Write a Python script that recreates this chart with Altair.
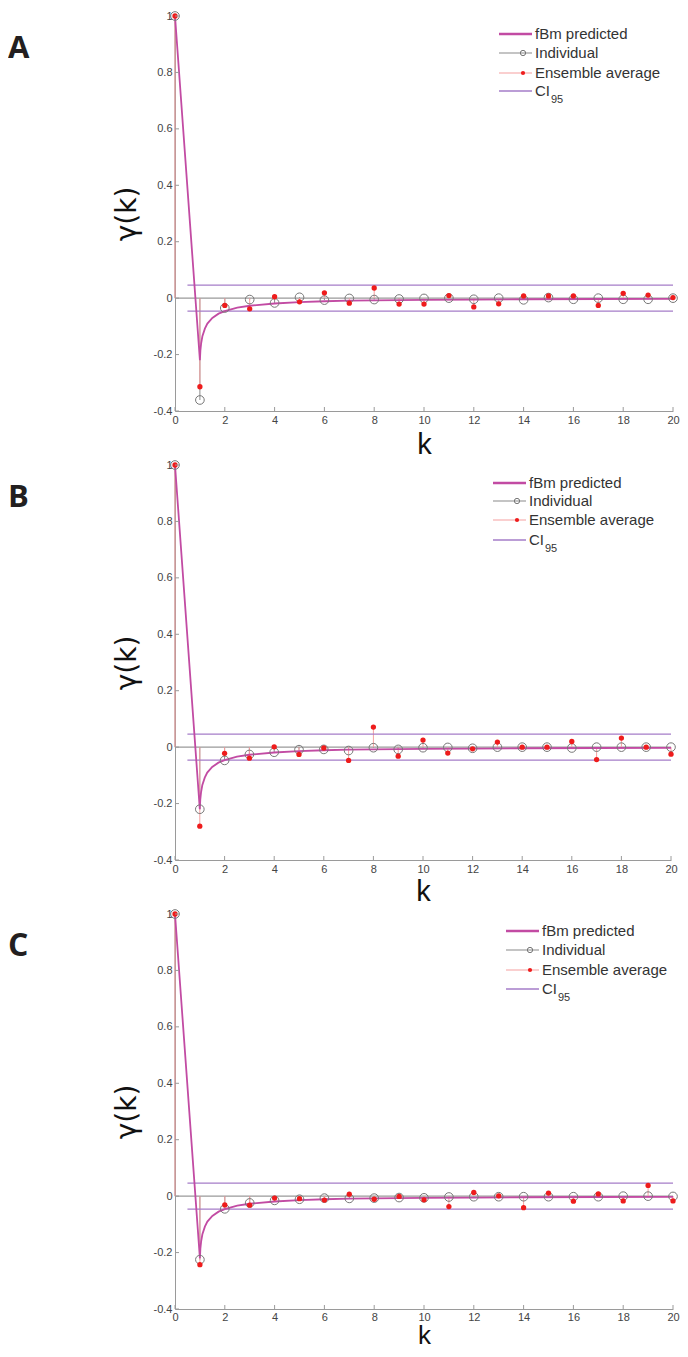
import altair as alt
import pandas as pd

# ---------------- data ----------------
K = list(range(21))

IND_A = [1.0, -0.361, -0.035, -0.005, -0.017, 0.003, -0.007, -0.001, -0.005, -0.003,
         -0.001, 0.0, -0.004, 0.0, -0.006, 0.002, -0.004, 0.0, -0.004, -0.004, 0.0]
ENS_A = [1.0, -0.314, -0.026, -0.038, 0.005, -0.013, 0.019, -0.018, 0.036, -0.021,
         -0.021, 0.009, -0.031, -0.020, 0.008, 0.008, 0.008, -0.026, 0.017, 0.011, 0.002]

IND_B = [1.0, -0.220, -0.047, -0.026, -0.018, -0.009, -0.008, -0.012, -0.002, -0.008,
         -0.002, -0.001, -0.004, 0.0, 0.0, 0.0, -0.003, 0.0, 0.0, 0.0, 0.0]
ENS_B = [1.0, -0.280, -0.022, -0.039, 0.001, -0.026, -0.003, -0.047, 0.071, -0.032,
         0.025, -0.021, -0.006, 0.018, 0.0, 0.0, 0.020, -0.044, 0.032, 0.0, -0.025]

IND_C = [1.0, -0.225, -0.045, -0.024, -0.015, -0.011, -0.007, -0.008, -0.007, -0.005,
         -0.006, -0.003, -0.002, -0.002, -0.002, -0.002, -0.002, -0.002, 0.0, 0.0, -0.001]
ENS_C = [1.0, -0.243, -0.031, -0.032, -0.007, -0.009, -0.014, 0.007, -0.011, -0.001,
         -0.013, -0.037, 0.013, 0.001, -0.041, 0.011, -0.018, 0.008, -0.017, 0.038, -0.017]

FBM_K = [0, 1, 1.02, 1.05, 1.1, 1.2, 1.3, 1.5, 1.75, 2, 2.5, 3, 4, 5, 6, 7, 8, 10, 12, 14, 17, 20]
FBM_G = [1.0, -0.22, -0.185, -0.16, -0.135, -0.108, -0.09, -0.07, -0.055, -0.046, -0.034,
         -0.027, -0.019, -0.014, -0.011, -0.009, -0.008, -0.006, -0.005, -0.004, -0.003, -0.0025]

CI = 0.046
CI_START = 0.5

X_TICKS = [0, 2, 4, 6, 8, 10, 12, 14, 16, 18, 20]
Y_TICKS = [-0.4, -0.2, 0, 0.2, 0.4, 0.6, 0.8, 1]

LEGEND_LABELS = ["fBm predicted", "Individual", "Ensemble average", "CI", "95"]

# ---------------- styles ----------------
FONT = "Liberation Sans"
FBM_C = "#c24ba3"
CI_C = "#a57dc8"
RED = "#ee1c1c"
PINK = "#f5a0a0"
GRAY = "#777777"
AX = "#9a9a9a"


def panel(letter, ind, ens, W, H, letter_dx, letter_size, leg_x, leg_y, k_y, k_size, lpad):
    df = pd.DataFrame({"k": K, "ind": ind, "ens": ens})
    fbm = pd.DataFrame({"k": FBM_K, "g": FBM_G})
    base0 = pd.DataFrame({"x0": [K[0]], "x1": [K[-1]], "y": [0.0]})
    ci = pd.DataFrame({"x0": [CI_START, CI_START], "x1": [K[-1], K[-1]], "y": [CI, -CI]})
    xt = pd.DataFrame({"t": X_TICKS})
    yt = pd.DataFrame({"t": Y_TICKS})
    one = pd.DataFrame({"a": [0]})

    xs = alt.Scale(domain=[0, 20], nice=False, zero=False)
    ys = alt.Scale(domain=[-0.4, 1], nice=False, zero=False)
    xaxis = alt.Axis(values=X_TICKS, format="d", title="k", tickSize=0, labelPadding=lpad,
                     labelFontSize=11, labelColor="#444", labelFont=FONT,
                     domainColor=AX, grid=False, labelFlush=False,
                     titleFontSize=k_size, titleFontWeight="normal", titleColor="#111",
                     titleFont=FONT, titleX=W / 2, titleY=k_y, titleBaseline="alphabetic")
    yaxis = alt.Axis(values=Y_TICKS, format=".1~f",
                     labelExpr="replace(datum.label, '\u2212', '-')",
                     title="\u03b3(k)", tickSize=0, labelPadding=3,
                     labelFontSize=11, labelColor="#444", labelFont=FONT,
                     domainColor=AX, grid=False, labelFlush=False,
                     titleFontSize=28, titleFontWeight="normal", titleColor="#111",
                     titleFont="DejaVu Sans", titleX=-40, titleY=H / 2, titleAngle=270,
                     titleBaseline="alphabetic", titleAlign="center")

    def X(f):
        return alt.X(f, scale=xs, axis=xaxis)

    def Y(f):
        return alt.Y(f, scale=ys, axis=yaxis)

    layers = []
    layers.append(alt.Chart(base0).mark_rule(color=AX, strokeWidth=1.3)
                  .encode(x=X("x0:Q"), x2="x1:Q", y=Y("y:Q")))
    layers.append(alt.Chart(df).mark_rule(color="#8a8a8a", strokeWidth=1)
                  .encode(x=X("k:Q"), y=Y("ind:Q"), y2=alt.datum(0)))
    layers.append(alt.Chart(df).mark_rule(color=PINK, strokeWidth=1)
                  .encode(x=X("k:Q"), y=Y("ens:Q"), y2=alt.datum(0)))
    layers.append(alt.Chart(ci).mark_rule(color=CI_C, strokeWidth=1.4)
                  .encode(x=X("x0:Q"), x2="x1:Q", y=Y("y:Q")))
    layers.append(alt.Chart(fbm).mark_line(color=FBM_C, strokeWidth=1.8)
                  .encode(x=X("k:Q"), y=Y("g:Q")))
    layers.append(alt.Chart(df).mark_point(shape="circle", filled=False, size=75,
                                           color=GRAY, strokeWidth=1, opacity=1)
                  .encode(x=X("k:Q"), y=Y("ind:Q")))
    layers.append(alt.Chart(df).mark_circle(size=28, color=RED, opacity=1)
                  .encode(x=X("k:Q"), y=Y("ens:Q")))
    # inward ticks
    layers.append(alt.Chart(xt).mark_rule(color=AX, strokeWidth=1)
                  .encode(x=X("t:Q"), y=alt.value(H), y2=alt.value(H - 4)))
    layers.append(alt.Chart(yt).mark_rule(color=AX, strokeWidth=1)
                  .encode(y=Y("t:Q"), x=alt.value(0), x2=alt.value(4)))

    # legend
    l0, l1 = leg_x - 36, leg_x - 3
    mk = leg_x - 12
    styles = [(FBM_C, 2.6), ("#8a8a8a", 1.2), (PINK, 1.2), (CI_C, 1.4)]
    for i, (c, w) in enumerate(styles):
        layers.append(alt.Chart(one).mark_rule(color=c, strokeWidth=w)
                      .encode(x=alt.value(l0), x2=alt.value(l1), y=alt.value(leg_y[i])))
    layers.append(alt.Chart(one).mark_point(shape="circle", filled=False, size=28,
                                            color=GRAY, strokeWidth=1, opacity=1)
                  .encode(x=alt.value(mk), y=alt.value(leg_y[1])))
    layers.append(alt.Chart(one).mark_circle(size=18, color=RED, opacity=1)
                  .encode(x=alt.value(mk), y=alt.value(leg_y[2])))
    for i in range(4):
        layers.append(alt.Chart(one).mark_text(text=LEGEND_LABELS[i], font=FONT, fontSize=15,
                                               align="left", baseline="middle", color="#333")
                      .encode(x=alt.value(leg_x), y=alt.value(leg_y[i])))
    layers.append(alt.Chart(one).mark_text(text=LEGEND_LABELS[4], font=FONT, fontSize=11,
                                           align="left", baseline="middle", color="#333")
                  .encode(x=alt.value(leg_x + 16), y=alt.value(leg_y[3] + 9)))

    # panel letter
    layers.append(alt.Chart(one).mark_text(text=letter, font="Open Sans", fontWeight="bold",
                                           fontSize=letter_size, align="left",
                                           baseline="alphabetic", color="#231f20")
                  .encode(x=alt.value(letter_dx), y=alt.value(42)))

    return alt.layer(*layers).properties(width=W, height=H)


pA = panel("A", IND_A, ENS_A, 498, 395, -167, 31, 360, [18, 37, 57, 75], 42, 29, 3)
pB = panel("B", IND_B, ENS_B, 496, 395, -167, 31, 354, [18, 36, 55, 75], 40, 29, 3)
pC = panel("C", IND_C, ENS_C, 498, 395, -167, 32, 367, [17, 36, 56, 75], 34, 26, 2)

chart = (alt.vconcat(pA, pB, pC, spacing=54, bounds="flush")
         .properties(padding={"top": 1, "left": 0, "right": 0, "bottom": 0})
         .configure_view(stroke=None))

chart.save("out.html", embed_options={"renderer": "svg", "actions": False})
